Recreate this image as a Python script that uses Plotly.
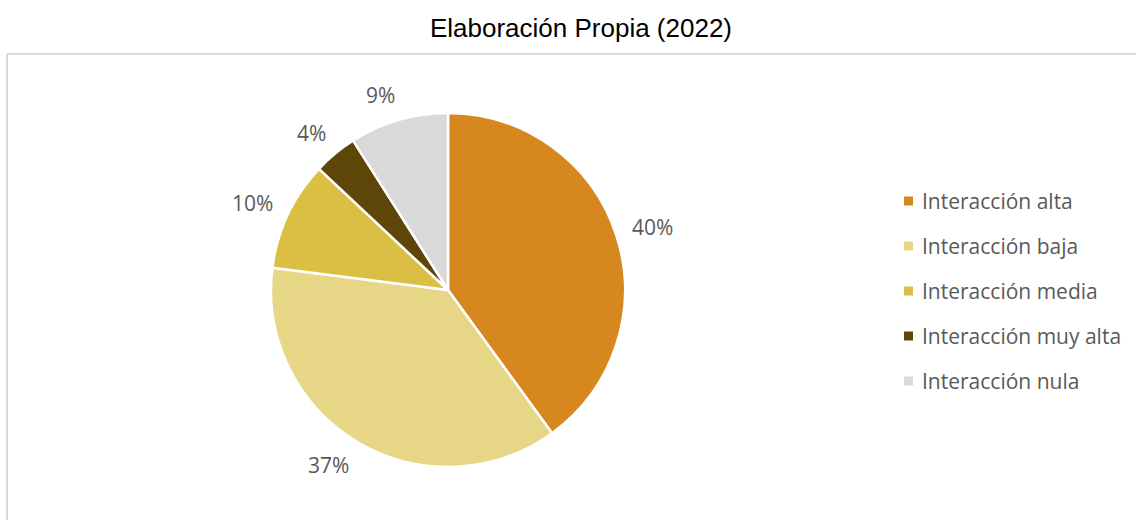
import math
import plotly.graph_objects as go

# Category data
categories = ["Interacción alta", "Interacción baja", "Interacción media",
              "Interacción muy alta", "Interacción nula"]
shares = [40, 37, 10, 4, 9]
colors = ["#D6881F", "#E6D686", "#DBBF45", "#5E4508", "#D9D9D9"]

W, H = 1136, 520
cx, cy, r = 448, 290, 177  # pie centre / radius in pixels

fig = go.Figure(go.Pie(
    labels=categories,
    values=shares,
    sort=False,
    direction="clockwise",
    rotation=0,
    marker=dict(colors=colors, line=dict(color="white", width=2.5)),
    textinfo="none",
    hoverinfo="label+percent",
    showlegend=False,
    domain=dict(x=[(cx - r) / W, (cx + r) / W],
                y=[(H - cy - r) / H, (H - cy + r) / H]),
))

annotations = []
shapes = []

# Percentage labels: placed just outside the slice mid-angle
total = sum(shares)
cum = 0
label_size = 21
label_font = dict(family="Open Sans, Liberation Sans, sans-serif", size=label_size, color="#595959")
for v in shares:
    mid = (cum + v / 2) / total * 2 * math.pi
    cum += v
    txt = f"{round(v / total * 100)}%"
    s, c = math.sin(mid), math.cos(mid)
    d = r + 16
    px = cx + d * s
    py = cy - d * c
    bw = 0.66 * label_size * len(txt)
    bh = label_size
    px += bw / 2 * (1 if s > 0 else -1)
    py -= bh / 2 * c
    annotations.append(dict(
        x=px / W, y=1 - py / H, xref="paper", yref="paper",
        text=txt, showarrow=False,
        font=label_font, xanchor="center", yanchor="middle",
    ))

# Legend drawn as coloured squares with text
leg_x, leg_y0, leg_dy, sq = 908.5, 201, 45, 9
for i, (name, col) in enumerate(zip(categories, colors)):
    yy = leg_y0 + i * leg_dy
    shapes.append(dict(
        type="rect", xref="paper", yref="paper",
        x0=(leg_x - sq / 2) / W, x1=(leg_x + sq / 2) / W,
        y0=1 - (yy + sq / 2) / H, y1=1 - (yy - sq / 2) / H,
        fillcolor=col, line=dict(width=0),
    ))
    annotations.append(dict(
        x=920 / W, y=1 - yy / H, xref="paper", yref="paper",
        text=name, showarrow=False, xanchor="left", yanchor="middle",
        font=dict(family="Open Sans, Liberation Sans, sans-serif", size=21, color="#595959"),
    ))

# Chart frame (top and left edges)
shapes.append(dict(type="line", xref="paper", yref="paper",
                   x0=7 / W, x1=1.0, y0=1 - 54 / H, y1=1 - 54 / H,
                   line=dict(color="#D9D9D9", width=2)))
shapes.append(dict(type="line", xref="paper", yref="paper",
                   x0=7 / W, x1=7 / W, y0=0, y1=1 - 54 / H,
                   line=dict(color="#D9D9D9", width=2)))

fig.update_layout(
    width=W, height=H,
    margin=dict(l=0, r=0, t=0, b=0),
    paper_bgcolor="white",
    plot_bgcolor="white",
    title=dict(text="Elaboración Propia (2022)", x=581 / W, xanchor="center",
               y=1 - 28 / H, yanchor="middle",
               font=dict(family="Liberation Sans, Arial, sans-serif", size=26, color="#000000")),
    annotations=annotations,
    shapes=shapes,
)

fig.write_html("out.html")
